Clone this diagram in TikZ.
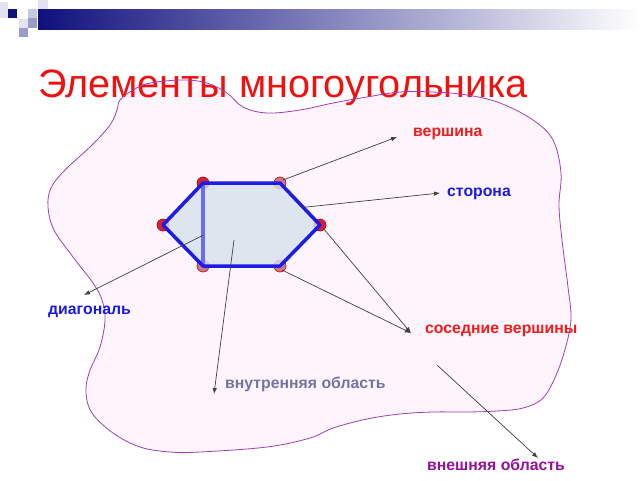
\documentclass[tikz,border=0pt]{standalone}
\usepackage{fontspec}
\setmainfont{Liberation Sans}
\usetikzlibrary{arrows.meta,calc}
\definecolor{navy}{HTML}{10107E}
\definecolor{sq1}{HTML}{C8C8E0}
\definecolor{sq2}{HTML}{9C9CC8}
\definecolor{sq3}{HTML}{E2E2F0}
\definecolor{titlered}{HTML}{F01010}
\definecolor{lred}{HTML}{EE1C1C}
\definecolor{lblue}{HTML}{1A1AE8}
\definecolor{lgray}{HTML}{7474A4}
\definecolor{lpurple}{HTML}{96109A}
\definecolor{blobfill}{HTML}{FDF5FB}
\definecolor{blobline}{HTML}{A040B0}
\definecolor{hexfill}{HTML}{D6E2EC}
\definecolor{hexedge}{HTML}{1C1CE6}
\definecolor{diagc}{HTML}{6C6CF0}
\definecolor{vred}{HTML}{DD2030}
\definecolor{vpink}{HTML}{D07888}
\tikzset{
  lbl/.style={font=\fontsize{15.8}{18}\selectfont\bfseries, inner sep=0pt, anchor=mid west},
  vtx/.style={circle, draw=vred!70!black, line width=0.7pt, fill=vred, minimum size=12pt, inner sep=0pt},
  vtxp/.style={circle, draw=vred!80!black, line width=0.7pt, fill=vpink, minimum size=12pt, inner sep=0pt},
  arr/.style={draw=black!75, line width=0.7pt, -{Latex[length=6pt,width=4.5pt]}},
}
\begin{document}
\begin{tikzpicture}[x=1pt,y=-1pt]
\useasboundingbox (0,0) rectangle (640,480);
\fill[white] (0,0) rectangle (640,480);
% header
\shade[left color=navy, right color=white] (38,9) rectangle (640,29);
\fill[sq3] (0,2) rectangle (8,18);
\fill[navy] (8,9) rectangle (17,18);
\fill[sq1] (28,9) rectangle (37,18);
\fill[sq3] (38,0) rectangle (48,9);
\fill[sq3] (19,19) rectangle (28,28);
\fill[sq2] (28,18) rectangle (37,28);
\fill[sq2] (19,28) rectangle (28,37);
% blob
\def\blob{plot[smooth cycle, tension=0.6] coordinates {(120,100) (133,90) (150,83) (183,80) (207,83) (227,93) (243,107) (267,113) (300,110) (333,103) (367,97) (400,92) (433,92) (467,95) (500,103) (533,120) (553,140) (561,173) (559,205) (562,240) (568,287) (571,317) (567,342) (557,373) (543,398) (523,408) (497,411) (467,412) (433,412) (400,414) (367,419) (333,428) (310,438) (267,447) (200,452) (170,452) (140,447) (113,433) (92,413) (86,393) (89,373) (100,347) (105,320) (102,300) (93,283) (73,257) (54,230) (48,207) (51,188) (65,170) (92,145) (110,125) (117,110)}}
\fill[blobfill] \blob;
\node[text=titlered, font=\fontsize{39.6}{44}\selectfont, inner sep=0pt, anchor=base west] (title) at (38,97) {Элементы многоугольника};
\draw[blobline, line width=0.8pt] \blob;
% hexagon
\node[vtxp] (v2) at (280,183) {};
\node[vtxp] (v4) at (280,266) {};
\node[vtxp] (v5) at (203,266) {};
\node[vtx] (v6) at (163,225) {};
\node[vtx] (v1) at (203,183) {};
\node[vtx] (v3) at (320,225) {};
\fill[hexfill, opacity=0.8] (v1.center) -- (v2.center) -- (v3.center) -- (v4.center) -- (v5.center) -- (v6.center) -- cycle;
\draw[diagc, line width=3.5pt] (v1.center) -- (v5.center);
\draw[hexedge, line width=3.5pt, line join=round] (v1.center) -- (v2.center) -- (v3.center) -- (v4.center) -- (v5.center) -- (v6.center) -- cycle;
% labels
\node[lbl, text=lred] (lv) at (413,134) {вершина};
\node[lbl, text=lblue] (ls) at (447,194) {сторона};
\node[lbl, text=lblue] (ld) at (48,312) {диагональ};
\node[lbl, text=lred] (ln) at (425,331) {соседние вершины};
\node[lbl, text=lgray] (li) at (225,386) {внутренняя область};
\node[lbl, text=lpurple] (lo) at (427,468) {внешняя область};
% connector endpoints
\coordinate (sideP) at ($(v2)!0.58!(v3)$);
\coordinate (diagP) at ($(v1)!0.63!(v5)$);
\coordinate (inP) at (234,240);
\coordinate (outP) at (437,365);
\coordinate (tv) at (397,137);
\coordinate (ts) at (440,193);
\coordinate (td) at (84,295);
\coordinate (tn) at (411,333);
\coordinate (ti) at (214,394);
\coordinate (to) at (538,458);
% connectors
\draw[arr] (v2.center) ++(3,-3) -- (tv);
\draw[arr] (sideP) -- (ts);
\draw[arr] (diagP) -- (td);
\draw[arr] (v3.center) ++(3,3) -- (tn);
\draw[arr] (v4.center) ++(2,4) -- (tn);
\draw[arr] (inP) -- (ti);
\draw[arr] (outP) -- (to);
\end{tikzpicture}
\end{document}
